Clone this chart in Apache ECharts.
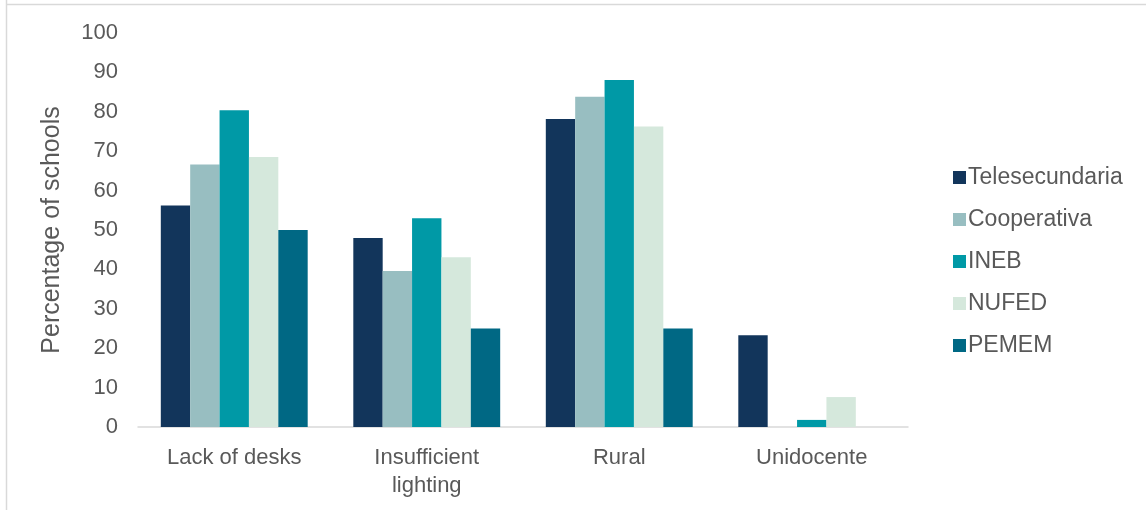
<!DOCTYPE html>
<html>
<head>
<meta charset="utf-8">
<script src="https://cdn.jsdelivr.net/npm/echarts@6/dist/echarts.min.js"></script>
<style>
  html, body { margin: 0; padding: 0; background: #ffffff; }
  #chart { width: 1146px; height: 510px; }
</style>
</head>
<body>
<div id="chart"></div>
<script>
// School conditions by secondary-school modality (% of schools)
const categories = ['Lack of desks', 'Insufficient\nlighting', 'Rural', 'Unidocente'];
const seriesNames = ['Telesecundaria', 'Cooperativa', 'INEB', 'NUFED', 'PEMEM'];
const telesecundaria = [56.2, 48.0, 78.2, 23.3];
const cooperativa    = [66.6, 39.6, 83.8, 0];
const ineb           = [80.4, 53.0, 88.1, 1.8];
const nufed          = [68.5, 43.1, 76.3, 7.6];
const pemem          = [50.0, 25.0, 25.0, 0];
const yTicks = [0, 10, 20, 30, 40, 50, 60, 70, 80, 90, 100];

const colors = ['#12355b', '#98bec1', '#0099a6', '#d5e8dc', '#006884'];
const values = [telesecundaria, cooperativa, ineb, nufed, pemem];
const textColor = '#595959';
const font = 'Liberation Sans, Arial, sans-serif';

const chart = echarts.init(document.getElementById('chart'), null, { renderer: 'canvas' });

chart.setOption({
  animation: false,
  color: colors,
  textStyle: { fontFamily: font },
  graphic: [
    { type: 'line', shape: { x1: 6.5, y1: 0, x2: 6.5, y2: 510 }, style: { stroke: '#d9d9d9', lineWidth: 1.5 } },
    { type: 'line', shape: { x1: 6, y1: 4.5, x2: 1146, y2: 4.5 }, style: { stroke: '#d9d9d9', lineWidth: 1.5 } }
  ],
  grid: { left: 138, right: 238, top: 33, bottom: 83, containLabel: false },
  legend: {
    orient: 'vertical',
    left: 948,
    top: 161,
    itemWidth: 13,
    itemHeight: 13,
    itemGap: 19,
    icon: 'rect',
    data: seriesNames,
    textStyle: { color: textColor, fontSize: 23, fontFamily: font, padding: [0, 0, 0, -3] }
  },
  xAxis: {
    type: 'category',
    data: categories,
    axisLine: { lineStyle: { color: '#d9d9d9', width: 1.5 } },
    axisTick: { show: false },
    axisLabel: { color: textColor, fontSize: 22, fontFamily: font, margin: 17, lineHeight: 28, interval: 0 }
  },
  yAxis: {
    type: 'value',
    min: yTicks[0],
    max: yTicks[yTicks.length - 1],
    interval: yTicks[1] - yTicks[0],
    name: 'Percentage of schools',
    nameLocation: 'middle',
    nameGap: 73,
    nameRotate: 90,
    nameTextStyle: { color: textColor, fontSize: 25, fontFamily: font },
    axisLine: { show: false },
    axisTick: { show: false },
    splitLine: { show: false },
    axisLabel: { color: textColor, fontSize: 22, fontFamily: font, margin: 20 }
  },
  series: seriesNames.map((name, i) => ({
    name: name,
    type: 'bar',
    data: values[i],
    barGap: '0%',
    barCategoryGap: '23.7%',
    itemStyle: { color: colors[i] }
  }))
});
</script>
</body>
</html>
